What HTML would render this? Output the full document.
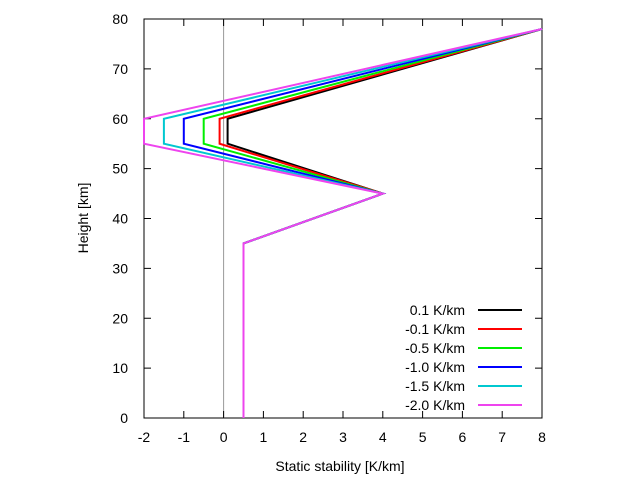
<!DOCTYPE html>
<html><head><meta charset="utf-8"><style>
body{margin:0;background:#fff;}
svg text{font-family:"Liberation Sans",sans-serif;font-size:14px;fill:#000;}
</style></head><body>
<svg id="chart" width="640" height="480">
<rect x="144" y="19" width="398" height="399" fill="none" stroke="#000"/>
<g id="ticks"></g>
<g id="series"></g>
<g id="legend"></g>
<text x="340" y="471" text-anchor="middle">Static stability [K/km]</text>
<text transform="translate(88,218) rotate(-90)" text-anchor="middle">Height [km]</text>
</svg>
<script>
const xTicks=[-2,-1,0,1,2,3,4,5,6,7,8];
const yTicks=[0,10,20,30,40,50,60,70,80];
const labels=["0.1 K/km","-0.1 K/km","-0.5 K/km","-1.0 K/km","-1.5 K/km","-2.0 K/km"];
const minValues=[0.1,-0.1,-0.5,-1.0,-1.5,-2.0];
const colors=["#000000","#ff0000","#00ee00","#0000ff","#00c8d0","#ee44ee"];
const profileX=[0.5,0.5,4,null,null,8];
const profileY=[0,35,45,55,60,78];
const NS="http://www.w3.org/2000/svg";
const X=v=>144+(v+2)*39.8, Y=v=>418-v*4.9875;
function mk(t,a,p){const e=document.createElementNS(NS,t);for(const k in a)e.setAttribute(k,a[k]);p.appendChild(e);return e;}
const tg=document.getElementById('ticks');
const zl=mk('line',{x1:X(0),x2:X(0),y1:19,y2:418,stroke:'#999','stroke-width':1},tg);


xTicks.forEach(v=>{const x=X(v);
const a=mk('line',{x1:x,x2:x,y1:418,y2:411,stroke:'#000'},tg);
const b=mk('line',{x1:x,x2:x,y1:19,y2:26,stroke:'#000'},tg);
const t=mk('text',{x:x,y:442,'text-anchor':'middle'},tg);t.textContent=v;});
yTicks.forEach(v=>{const y=Y(v);
const a=mk('line',{x1:144,x2:151,y1:y,y2:y,stroke:'#000'},tg);
const b=mk('line',{x1:542,x2:535,y1:y,y2:y,stroke:'#000'},tg);
const t=mk('text',{x:128,y:y+5,'text-anchor':'end'},tg);t.textContent=v;});
const sg=document.getElementById('series'),lg=document.getElementById('legend');
minValues.forEach((m,i)=>{
const xs=profileX.map(v=>v===null?m:v);
const pts=xs.map((v,j)=>X(v).toFixed(1)+','+Y(profileY[j]).toFixed(1)).join(' ');
const p=mk('polyline',{points:pts,fill:'none',stroke:colors[i],'stroke-width':2},sg);


const ly=310+i*19;
const t=mk('text',{x:465,y:ly+5,'text-anchor':'end'},lg);t.textContent=labels[i];


const l=mk('line',{x1:478,x2:522,y1:ly,y2:ly,stroke:colors[i],'stroke-width':2},lg);


});
</script>
</body></html>
